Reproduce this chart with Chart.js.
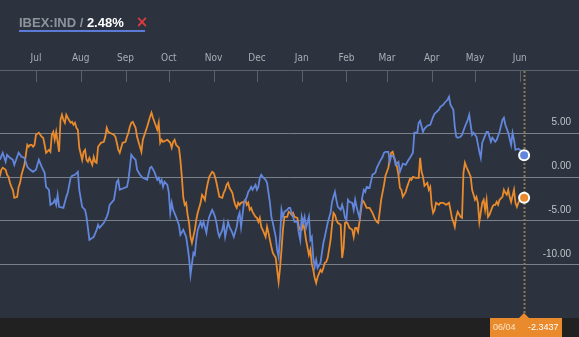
<!DOCTYPE html>
<html>
<head>
<meta charset="utf-8">
<script src="https://cdn.jsdelivr.net/npm/chart.js@4.4.1/dist/chart.umd.min.js"></script>
<style>
  html, body { margin: 0; padding: 0; background: #2c333e; }
  canvas { display: block; }
</style>
</head>
<body>
<canvas id="compareChart" width="579" height="337"></canvas>
<script>
// x values are calendar days counted from 1 Jul, y values are % change
var ibexDays = [-25,-23,-21,-20,-18,-16,-15,-12,-10,-8,-6,-4,-2,0,2,4,6,7,9,10,12,13,14,15,16,19,21,22,24,25,27,29,30,32,34,35,37,40,42,43,44,47,49,50,51,54,56,57,58,63,64,65,66,67,69,70,72,74,77,79,80,82,84,85,86,87,88,89,91,92,93,94,95,97,99,100,102,104,105,106,107,109,110,111,112,114,115,116,118,119,120,122,123,124,125,126,127,129,130,131,132,133,134,136,137,139,140,141,142,144,145,146,147,148,149,150,152,153,154,155,156,157,159,160,161,162,163,164,166,167,168,169,170,171,172,174,175,176,177,178,179,181,182,183,184,185,186,187,189,190,191,192,193,194,195,197,198,199,200,201,202,204,205,206,207,208,209,211,212,213,214,215,216,217,219,220,221,222,224,226,227,228,229,231,233,235,236,238,240,241,242,244,245,246,248,249,251,252,253,254,256,258,259,261,262,264,265,266,268,269,271,273,275,276,279,280,282,283,285,286,287,289,290,291,292,294,295,297,299,300,302,303,305,307,308,309,312,313,315,316,318,319,321,323,324,325,327,329,330,331,332,334,336,337,338];
var ibexValues = [1.97,2.77,1.74,2.54,2.2,1.97,1.4,2.77,2.31,2.2,1.17,0.83,0.6,0.83,1.97,1.17,0.49,-1.11,-1.45,-3.16,-2.93,-2.59,-3.16,-2.02,-3.39,-3.5,-2.25,-1.79,-0.08,0.15,0.26,0.6,-1.45,-3.39,-3.73,-4.53,-7.15,-6.81,-6.01,-5.44,-5.78,-5.21,-4.53,-4.07,-3.16,-2.59,-0.54,-0.31,-1.45,-1.11,-0.31,1.06,2.54,2.31,1.97,0.83,0.26,-0.08,-0.31,1.06,1.17,0.6,-0.31,-0.08,-0.65,-0.31,-1.11,-0.54,-0.88,-1.79,-4.07,-2.93,-3.73,-4.53,-5.44,-6.58,-6.01,-6.81,-7.95,-9.2,-11.14,-8.63,-8.86,-7.15,-6.01,-5.1,-5.67,-5.1,-6.35,-5.21,-4.53,-3.73,-4.07,-4.53,-5.21,-6.24,-6.81,-6.01,-5.21,-6.81,-6.01,-5.1,-5.67,-6.35,-6.81,-5.67,-4.53,-4.07,-5.67,-2.93,-2.59,-2.25,-1.68,-1.45,-1.11,-1.45,-0.88,-1.45,-1.11,-0.08,0.26,0.03,-0.31,-0.65,-1.79,-2.93,-4.53,-5.21,-6.81,-8.29,-9.09,-6.81,-3.73,-4.53,-3.96,-3.73,-3.5,-3.5,-4.07,-4.53,-5.1,-5.1,-6.35,-7.15,-4.53,-5.21,-4.53,-5.78,-4.53,-7.15,-6.81,-9.2,-10.23,-9.43,-10.34,-9.77,-8.63,-7.49,-6.81,-6.01,-5.21,-4.07,-2.82,-2.25,-1.68,-2.59,-3.39,-3.73,-3.16,-3.73,-4.64,-4.87,-2.59,-2.82,-2.93,-3.73,-2.59,-3.39,-4.64,-2.25,-1.45,-1.68,-1.11,-1.22,0.26,0.49,1.06,1.74,2.31,2.77,2.88,2.88,1.74,2.43,2.31,1.4,1.74,0.6,1.06,1.52,1.4,1.97,2.2,2.77,5.05,5.05,6.19,6.42,5.16,5.51,5.85,5.96,6.87,7.22,7.67,8.01,8.24,8.47,8.81,9.15,8.24,7.67,5.74,4.59,4.48,4.59,4.82,5.74,6.53,7.1,4.82,5.05,4.59,2.88,2.2,3.91,5.16,5.16,4.02,4.48,4.02,4.25,5.16,6.53,6.76,5.96,5.05,3.68,5.05,4.25,3.11,3.23,3.0,2.9,2.48];

var baseDays = [-25,-24,-23,-21,-20,-19,-18,-17,-16,-15,-13,-12,-11,-10,-9,-8,-6,-5,-4,-3,-2,-1,0,2,3,4,5,6,7,9,10,11,12,13,14,15,16,17,18,19,20,21,22,24,25,26,27,28,29,30,32,33,34,35,36,37,39,40,41,42,43,44,45,47,48,49,50,51,54,55,56,57,58,59,60,62,63,64,65,66,67,69,70,71,72,73,74,77,78,79,80,81,82,84,85,86,87,88,91,93,94,95,96,97,99,100,101,102,103,104,105,106,107,108,110,111,112,114,115,116,117,118,119,120,122,123,124,125,126,127,129,130,131,132,133,134,136,137,138,139,140,141,142,144,145,146,147,148,149,150,152,153,154,155,156,157,159,160,161,162,163,164,166,167,168,169,170,171,172,174,175,176,177,178,179,181,182,183,184,185,186,187,189,190,191,192,193,194,195,197,198,199,200,201,202,204,205,206,207,208,209,211,212,213,214,215,216,217,219,220,221,222,223,224,226,227,228,229,231,233,235,236,237,238,239,241,242,244,245,246,247,248,249,250,251,252,253,254,256,257,258,259,260,261,263,265,266,267,268,269,271,272,273,274,275,276,277,279,280,282,284,286,287,288,289,290,291,292,294,295,296,297,298,299,301,302,303,304,305,306,307,309,310,311,312,313,314,316,317,318,319,320,321,323,324,325,326,327,328,329,331,332,333,334,335,336,337,338];
var baseValues = [0.07,0.83,1.06,0.83,0.26,0.03,-0.65,-1.11,-1.45,-2.36,-2.25,-1.11,-0.65,0.26,0.83,1.4,3.68,3.45,3.68,3.68,3.45,3.68,4.82,5.05,4.82,4.59,4.48,3.68,2.77,3.11,2.88,4.82,5.16,4.25,5.16,4.02,2.88,6.53,7.1,6.53,6.19,7.1,6.76,6.19,6.3,5.96,6.19,5.62,5.39,3.34,1.97,2.88,3.11,1.97,1.74,2.2,1.4,2.31,1.74,1.63,3.45,3.68,3.91,4.02,4.59,5.62,5.16,5.05,4.82,4.59,3.91,3.11,2.77,3.34,3.91,4.02,4.59,5.05,5.74,6.19,6.3,5.62,4.59,4.02,3.45,2.88,4.25,5.74,6.3,6.87,7.33,6.76,6.3,5.39,6.19,3.91,4.25,4.02,4.25,3.91,3.34,4.02,4.25,3.68,3.34,1.97,0.03,-2.3,-3.16,-2.93,-4.3,-5.2,-6.8,-7.49,-6.01,-4.87,-4.07,-2.93,-2.02,-2.25,-2.59,-1.45,-0.65,0.03,0.6,0.49,0.03,-0.65,-1.45,-2.25,-2.36,-1.79,-1.45,-0.88,-0.65,-1.22,-1.79,-2.59,-3.16,-3.5,-2.93,-3.16,-2.93,-2.82,-2.59,-3.16,-2.93,-3.73,-3.5,-3.96,-4.53,-4.64,-5.1,-4.64,-5.67,-6.01,-6.81,-5.67,-6.35,-7.15,-7.95,-8.63,-9.2,-10.57,-11.94,-10.34,-8.29,-6.01,-4.53,-4.53,-3.96,-4.07,-4.3,-4.07,-4.53,-4.64,-5.67,-6.01,-6.01,-5.21,-6.01,-7.15,-8.86,-8.29,-9.89,-10.57,-11.48,-12.05,-11.37,-10.57,-10.8,-10.34,-9.77,-9.66,-9.2,-7.15,-5.44,-4.07,-4.3,-4.87,-5.21,-5.44,-9.2,-8.06,-5.21,-5.1,-5.33,-5.78,-6.01,-6.81,-5.78,-5.78,-6.24,-5.1,-2.59,-2.82,-3.16,-3.5,-3.5,-4.07,-4.87,-5.1,-5.21,-3.96,-2.59,-0.88,0.15,1.06,2.2,2.77,2.88,2.2,1.74,1.17,0.26,-1.22,-1.45,-2.25,-1.68,-1.11,-0.65,-0.19,-0.31,0.03,-0.08,-0.08,2.2,0.6,0.03,-0.99,-0.65,-1.45,-1.11,-3.16,-4.07,-3.73,-2.93,-3.16,-2.93,-2.93,-3.16,-2.93,-3.73,-4.64,-5.1,-5.67,-4.53,-3.96,-4.53,-4.64,0.49,1.63,1.17,0.83,0.03,-1.45,-2.02,-2.59,-2.25,-2.93,-5.1,-2.93,-2.59,-3.73,-2.59,-4.53,-4.3,-3.39,-3.16,-3.16,-2.82,-3.16,-2.59,-2.25,-1.45,-1.79,-2.02,-1.45,-2.25,-2.82,-1.45,-2.93,-3.39,-2.93,-2.59,-2.36,-2.36,-2.3437];

var monthStarts = [0, 31, 62, 92, 123, 153, 184, 215, 243, 274, 304, 335];
var monthLabels = ['Jul', 'Aug', 'Sep', 'Oct', 'Nov', 'Dec', 'Jan', 'Feb', 'Mar', 'Apr', 'May', 'Jun'];
var yTicks = [5, 0, -5, -10];
var lastDateLabel = '06/04';
var tickerName = 'IBEX:IND';

var BLUE = '#6286dc';
var ORANGE = '#e98a2c';

function points(days, values) {
    return days.map(function (d, i) { return { x: d, y: values[i] }; });
}

function lastOnly(ctx) {
    return ctx.dataIndex === ctx.dataset.data.length - 1 ? 5 : 0;
}

var chrome = {
    id: 'chrome',
    beforeDraw: function (chart) {
        var ctx = chart.ctx, area = chart.chartArea;
        ctx.save();
        ctx.fillStyle = '#2c333e';
        ctx.fillRect(0, 0, chart.width, chart.height);
        ctx.fillStyle = '#212121';
        ctx.fillRect(0, area.bottom, chart.width, chart.height - area.bottom);
        ctx.restore();
    },
    beforeDatasetsDraw: function (chart) {
        var ctx = chart.ctx, area = chart.chartArea, x = chart.scales.x;
        ctx.save();
        // month axis along the top edge, ticks pointing down
        ctx.strokeStyle = '#5a626d';
        ctx.lineWidth = 1;
        ctx.beginPath();
        ctx.moveTo(0, area.top + 0.5);
        ctx.lineTo(chart.width, area.top + 0.5);
        monthStarts.forEach(function (d) {
            var px = Math.round(x.getPixelForValue(d)) + 0.5;
            ctx.moveTo(px, area.top);
            ctx.lineTo(px, area.top + 12);
        });
        ctx.stroke();
        ctx.fillStyle = '#a9aeb5';
        ctx.font = '10px "Liberation Sans Narrow", "DejaVu Sans Condensed", sans-serif';
        ctx.textAlign = 'center';
        ctx.textBaseline = 'middle';
        monthLabels.forEach(function (m, i) {
            ctx.fillText(m, x.getPixelForValue(monthStarts[i]), area.top - 12);
        });
        // dotted cursor on the latest session
        var lx = Math.round(x.getPixelForValue(baseDays[baseDays.length - 1])) + 0.5;
        ctx.strokeStyle = '#8e7b53';
        ctx.lineWidth = 2;
        ctx.setLineDash([2, 2]);
        ctx.beginPath();
        ctx.moveTo(lx, area.top + 1);
        ctx.lineTo(lx, area.bottom);
        ctx.stroke();
        ctx.restore();
    },
    afterDraw: function (chart) {
        var ctx = chart.ctx, area = chart.chartArea, x = chart.scales.x, y = chart.scales.y;
        ctx.save();

        // header: ticker / latest change
        var pct = ibexValues[ibexValues.length - 1].toFixed(2) + '%';
        ctx.font = 'bold 13px "Liberation Sans", Arial, sans-serif';
        ctx.textBaseline = 'alphabetic';
        ctx.textAlign = 'left';
        var hx = 19, hy = 27;
        var head = tickerName + ' / ';
        ctx.fillStyle = '#8e949c';
        ctx.fillText(head, hx, hy);
        var w1 = ctx.measureText(head).width;
        ctx.fillStyle = '#ffffff';
        ctx.fillText(pct, hx + w1, hy);
        var w2 = ctx.measureText(pct).width;
        ctx.fillStyle = '#e0393f';
        ctx.font = 'bold 15px "DejaVu Sans", sans-serif';
        ctx.fillText('\u00d7', hx + w1 + w2 + 12, hy);
        ctx.fillStyle = '#5b7bd6';
        ctx.fillRect(hx, 30, 126, 2);

        // y labels sit just above their grid lines
        ctx.font = '10px "Liberation Sans", Arial, sans-serif';
        ctx.fillStyle = '#bfc3c9';
        ctx.textAlign = 'right';
        ctx.textBaseline = 'middle';
        yTicks.forEach(function (v) {
            ctx.fillText(v.toFixed(2), 571, y.getPixelForValue(v) - 11);
        });

        // value box for the latest session
        var lastVal = baseValues[baseValues.length - 1];
        var lx = Math.round(x.getPixelForValue(baseDays[baseDays.length - 1]));
        var top = area.bottom;
        ctx.fillStyle = ORANGE;
        ctx.fillRect(lx - 34, top, 72, chart.height - top);
        ctx.beginPath();
        ctx.moveTo(lx - 5, top);
        ctx.lineTo(lx + 5, top);
        ctx.lineTo(lx, top - 5);
        ctx.closePath();
        ctx.fill();
        ctx.font = '9px "Liberation Sans", Arial, sans-serif';
        ctx.textAlign = 'left';
        ctx.fillStyle = '#fde4c8';
        ctx.fillText(lastDateLabel, lx - 31, top + 10);
        ctx.fillStyle = '#ffffff';
        ctx.fillText(lastVal.toFixed(4), lx + 4, top + 10);
        ctx.restore();
    }
};

var chart = new Chart(document.getElementById('compareChart').getContext('2d'), {
    type: 'line',
    data: {
        datasets: [{
            label: tickerName,
            data: points(ibexDays, ibexValues),
            borderColor: BLUE,
            backgroundColor: BLUE,
            pointBackgroundColor: BLUE,
            pointBorderColor: '#ffffff',
            pointBorderWidth: 2,
            pointRadius: lastOnly,
            borderWidth: 1.8,
            tension: 0
        }, {
            label: 'base',
            data: points(baseDays, baseValues),
            borderColor: ORANGE,
            backgroundColor: ORANGE,
            pointBackgroundColor: ORANGE,
            pointBorderColor: '#ffffff',
            pointBorderWidth: 2,
            pointRadius: lastOnly,
            borderWidth: 1.8,
            tension: 0
        }]
    },
    options: {
        responsive: false,
        animation: false,
        layout: { autoPadding: false, padding: { top: 70, bottom: 19, left: 0, right: 0 } },
        scales: {
            x: {
                type: 'linear',
                min: -24.9,
                max: 376,
                display: false
            },
            y: {
                position: 'right',
                min: -16.05,
                max: 12.2,
                afterBuildTicks: function (axis) {
                    axis.ticks = yTicks.map(function (v) { return { value: v }; });
                },
                ticks: { display: false },
                border: { display: false },
                grid: { color: '#7b818a', lineWidth: 1, drawTicks: false }
            }
        },
        plugins: {
            legend: { display: false },
            tooltip: { enabled: false }
        }
    },
    plugins: [chrome]
});
</script>
</body>
</html>
